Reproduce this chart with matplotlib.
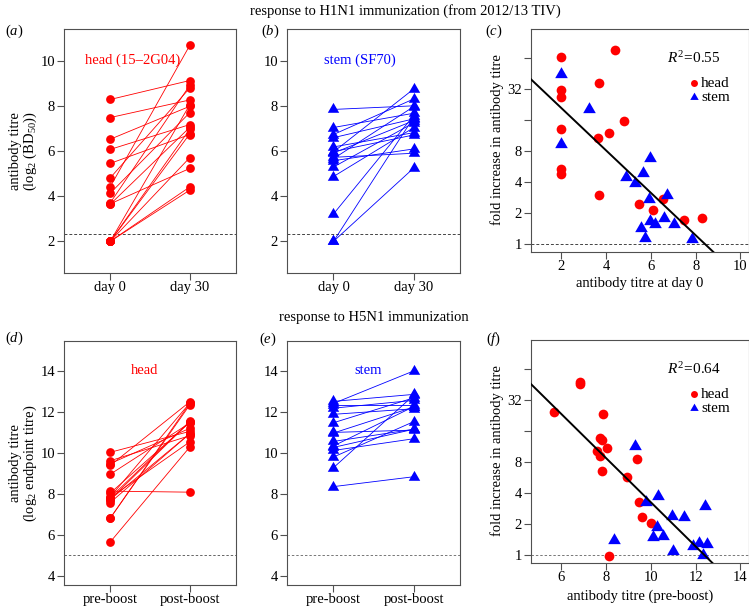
import numpy as np
import matplotlib
matplotlib.use('Agg')
import matplotlib.pyplot as plt

plt.rcParams['font.family'] = ['Liberation Serif', 'DejaVu Serif']
plt.rcParams['mathtext.fontset'] = 'custom'
plt.rcParams['mathtext.rm'] = 'Liberation Serif'
plt.rcParams['mathtext.it'] = 'Liberation Serif:italic'
plt.rcParams['mathtext.bf'] = 'Liberation Serif:bold'

# ---------------- data ----------------
# H1N1 (2012/13 TIV), log2 BD50
head_h1_day0 = [2, 2, 2, 2, 2, 2, 4.41, 3.70, 4.81, 4.13, 3.64, 3.66, 5.45, 6.07, 6.52, 7.48, 8.28]
head_h1_day30 = [8.05, 6.97, 6.76, 5.71, 4.41, 4.27, 10.68, 8.91, 8.79, 7.70, 7.05, 5.23, 6.73, 7.17, 7.98, 8.26, 9.12]
stem_h1_day0 = [2, 2, 3.21, 4.87, 5.29, 5.66, 5.96, 5.91, 6.73, 5.97, 6.18, 6.59, 7.04, 5.57, 5.72, 7.84]
stem_h1_day30 = [7.48, 5.24, 7.56, 7.03, 7.24, 7.96, 8.74, 7.34, 8.30, 6.71, 6.81, 7.42, 7.67, 6.09, 5.90, 8.00]

# H5N1, log2 endpoint titre
head_h5_pre = [6.81, 6.81, 5.65, 7.85, 7.72, 7.81, 7.57, 8.03, 7.72, 9.38, 7.81, 8.95, 9.47, 9.61, 10.02, 8.13]
head_h5_post = [12.41, 12.33, 10.28, 12.42, 11.51, 11.53, 10.93, 11.48, 10.93, 12.48, 10.53, 11.45, 11.19, 10.83, 11.04, 8.08]
stem_h5_pre = [9.27, 8.35, 9.79, 10.33, 10.26, 10.11, 10.55, 10.96, 11.46, 12.40, 10.99, 11.87, 12.17, 12.50, 12.31]
stem_h5_post = [12.79, 8.83, 11.51, 12.24, 11.14, 10.68, 11.14, 12.22, 12.67, 13.98, 11.10, 12.14, 12.55, 12.84, 12.31]

h1_xticklabels = ['day 0', 'day 30']
h5_xticklabels = ['pre-boost', 'post-boost']
fold_ticks = [1, 2, 4, 8, 16, 32, 64]
fold_labels = ['1', '2', '4', '8', '', '32', '']
h1_threshold = np.log2(5)
h5_threshold = 5
r2_h1 = '0.55'
r2_h5 = '0.64'

# ---------------- figure ----------------
W, H = 749, 606
fig = plt.figure(figsize=(W / 100, H / 100), dpi=100)
RED = '#FF0000'
BLUE = '#0000FF'
FRAME = '#505050'
FS = 10.5

TRI = [(0, 1), (-0.866, -0.5), (0.866, -0.5)]


def add_ax(x0, x1, y0, y1):
    return fig.add_axes([x0 / W, 1 - y1 / H, (x1 - x0) / W, (y1 - y0) / H])


def ftext(x, y, s, **kw):
    fig.text(x / W, 1 - y / H, s, **kw)


def style(ax):
    for s in ax.spines.values():
        s.set_color(FRAME)
        s.set_linewidth(0.8)
    ax.tick_params(direction='out', length=5, width=0.8, color=FRAME,
                   labelsize=FS)
    ax.tick_params(axis='x', pad=0.5)
    ax.tick_params(axis='y', pad=1.5)


def paired(ax, pre, post, color, marker, ms, xlabels, thr, thr_col, thr_ls,
           ylim, yticks):
    for a, b in zip(pre, post):
        ax.plot([1, 2], [a, b], color=color, lw=0.6, zorder=2)
    ax.plot(np.ones(len(pre)), pre, ls='none', marker=marker, color=color,
            ms=ms, mew=0, zorder=3)
    ax.plot(np.full(len(post), 2), post, ls='none', marker=marker, color=color,
            ms=ms, mew=0, zorder=3)
    ax.axhline(thr, color=thr_col, lw=0.7, ls=thr_ls, zorder=1)
    ax.set_xlim(0.42, 2.58)
    ax.set_ylim(*ylim)
    ax.set_xticks([1, 2])
    ax.set_xticklabels(xlabels)
    ax.set_yticks(yticks)
    style(ax)


def fold_plot(ax, hx, hpost, sx, spost, xlim, xticks, r2, thr_col, thr_ls):
    hx = np.array(hx); sx = np.array(sx)
    hf = np.array(hpost) - hx
    sf = np.array(spost) - sx
    ax.plot(hx, hf, ls='none', marker='o', color=RED, ms=7, mew=0, zorder=3)
    ax.plot(sx, sf, ls='none', marker=TRI, color=BLUE, ms=10.5, mew=0, zorder=3)
    allx = np.concatenate([hx, sx]); ally = np.concatenate([hf, sf])
    m, b = np.polyfit(allx, ally, 1)
    ax.axline((0, b), slope=m, color='black', lw=1.4, zorder=4)
    ax.axhline(0, color=thr_col, lw=0.7, ls=thr_ls, zorder=1)
    ax.set_xlim(*xlim)
    ax.set_ylim(-0.27, 6.95)
    ax.set_xticks(xticks)
    ax.set_yticks(np.log2(fold_ticks))
    ax.set_yticklabels(fold_labels)
    style(ax)
    ax.text(0.75, 0.868, r'$R^2\!=\!$' + r2, transform=ax.transAxes,
            ha='center', va='center', fontsize=FS + 0.5)
    ax.plot([0.749], [0.756], transform=ax.transAxes, marker='o', color=RED,
            ms=5, mew=0, clip_on=False)
    ax.plot([0.749], [0.693], transform=ax.transAxes, marker=TRI, color=BLUE,
            ms=7, mew=0, clip_on=False)
    ax.text(0.782, 0.756, 'head', transform=ax.transAxes, ha='left', va='center',
            fontsize=FS + 0.5)
    ax.text(0.782, 0.693, 'stem', transform=ax.transAxes, ha='left', va='center',
            fontsize=FS + 0.5)


DARK_DASH = (0, (3, 2))
LIGHT_DASH = (0, (2.5, 2))

# top row
ax_a = add_ax(64, 236, 29, 273)
paired(ax_a, head_h1_day0, head_h1_day30, RED, 'o', 6.3, h1_xticklabels,
       h1_threshold, '#444444', DARK_DASH, (0.6, 11.4), [2, 4, 6, 8, 10])
ax_a.text(1.28, 10, 'head (15\u20132G04)', color=RED, ha='center', va='center', fontsize=FS)

ax_b = add_ax(287, 460, 29, 273)
paired(ax_b, stem_h1_day0, stem_h1_day30, BLUE, TRI, 9.5, h1_xticklabels,
       h1_threshold, '#444444', DARK_DASH, (0.6, 11.4), [2, 4, 6, 8, 10])
ax_b.text(1.33, 10, 'stem (SF70)', color=BLUE, ha='center', va='center', fontsize=FS)

ax_c = add_ax(531, 748.5, 29, 252)
fold_plot(ax_c, head_h1_day0, head_h1_day30, stem_h1_day0, stem_h1_day30,
          (0.64, 10.36), [2, 4, 6, 8, 10], r2_h1, '#444444', DARK_DASH)

# bottom row
ax_d = add_ax(64, 236, 341, 585)
paired(ax_d, head_h5_pre, head_h5_post, RED, 'o', 6.3, h5_xticklabels,
       h5_threshold, '#666666', LIGHT_DASH, (3.56, 15.44), [4, 6, 8, 10, 12, 14])
ax_d.text(1.43, 14, 'head', color=RED, ha='center', va='center', fontsize=FS)

ax_e = add_ax(287, 460, 341, 585)
paired(ax_e, stem_h5_pre, stem_h5_post, BLUE, TRI, 9.5, h5_xticklabels,
       h5_threshold, '#777777', LIGHT_DASH, (3.56, 15.44), [4, 6, 8, 10, 12, 14])
ax_e.text(1.43, 14, 'stem', color=BLUE, ha='center', va='center', fontsize=FS)

ax_f = add_ax(531, 748.5, 340, 563)
fold_plot(ax_f, head_h5_pre, head_h5_post, stem_h5_pre, stem_h5_post,
          (4.64, 14.36), [6, 8, 10, 12, 14], r2_h5, '#777777', LIGHT_DASH)

# titles and labels
ftext(405, 11, 'response to H1N1 immunization (from 2012/13 TIV)', ha='center', va='center', fontsize=FS)
ftext(374, 318, 'response to H5N1 immunization', ha='center', va='center', fontsize=FS)

ftext(24, 151, 'antibody titre\n(log$_2$ (BD$_{50}$))', rotation=90, ha='center',
      va='center', multialignment='center', fontsize=FS, linespacing=1.05)
ftext(24, 463, 'antibody titre\n(log$_2$ endpoint titre)', rotation=90, ha='center',
      va='center', multialignment='center', fontsize=FS, linespacing=1.05)
ftext(497, 140, 'fold increase in antibody titre', rotation=90, ha='center', va='center', fontsize=FS)
ftext(497, 451, 'fold increase in antibody titre', rotation=90, ha='center', va='center', fontsize=FS)
ftext(640, 284, 'antibody titre at day 0', ha='center', va='center', fontsize=FS)
ftext(640, 596, 'antibody titre (pre-boost)', ha='center', va='center', fontsize=FS)

for lab, x, y in [('a', 14, 31), ('b', 270, 31), ('c', 494, 31),
                  ('d', 14, 338), ('e', 268, 339), ('f', 494, 339)]:
    ftext(x, y, '($\\mathit{' + lab + '}$)', ha='center', va='center', fontsize=FS)

fig.savefig('out.png', dpi=100)
